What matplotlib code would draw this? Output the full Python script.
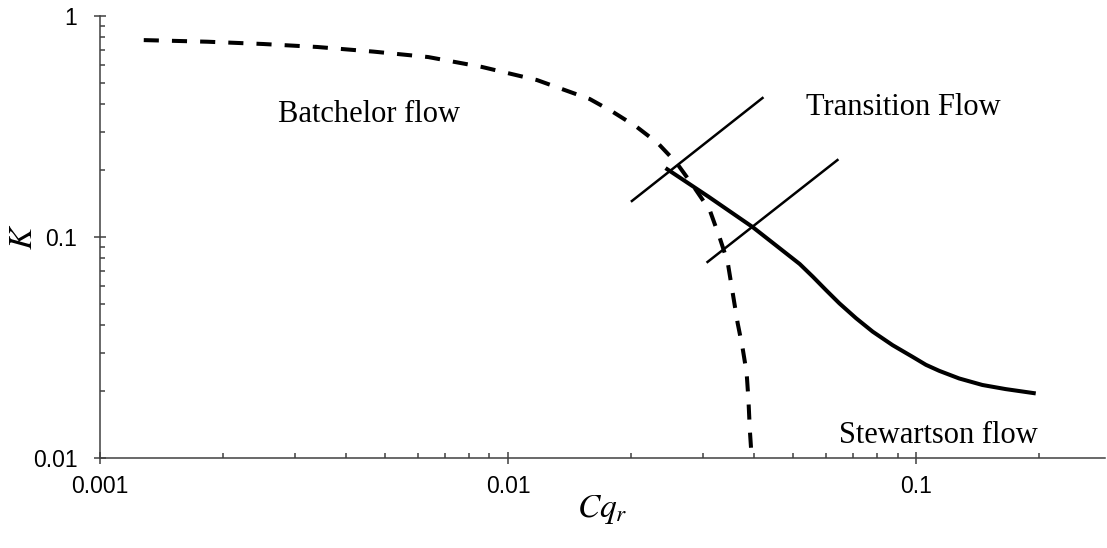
import matplotlib
matplotlib.use('Agg')
from matplotlib import pyplot as plt

plt.rcParams['mathtext.fontset'] = 'stix'

# Batchelor branch (dashed)
batchelor_cq = [0.00128, 0.00183, 0.00251, 0.00341, 0.00468, 0.00637, 0.00863,
                0.01177, 0.01585, 0.01806, 0.02065, 0.02326, 0.02588, 0.0283,
                0.0312, 0.0330, 0.0345, 0.0355, 0.0365, 0.0375, 0.0384,
                0.0388, 0.0391, 0.0395, 0.0397]
batchelor_k = [0.778, 0.765, 0.747, 0.724, 0.690, 0.652, 0.588,
               0.513, 0.421, 0.368, 0.315, 0.266, 0.216, 0.172,
               0.132, 0.0990, 0.0771, 0.0558, 0.0408, 0.0318, 0.0243,
               0.0183, 0.0134, 0.0101, 0.0085]

# Stewartson branch (solid)
stewartson_cq = [0.0243, 0.0310, 0.0397, 0.0518, 0.0558, 0.0601,
                 0.0648, 0.0712, 0.0782, 0.0875, 0.0979, 0.1056, 0.1138,
                 0.1274, 0.1452, 0.1656, 0.1962]
stewartson_k = [0.205, 0.152, 0.111, 0.0755, 0.0661, 0.0575,
                0.0501, 0.0429, 0.0373, 0.0324, 0.0287, 0.0264, 0.0248,
                0.0229, 0.0214, 0.0205, 0.0196]

# transition markers
trans1_cq = [0.0201, 0.0420]
trans1_k = [0.1455, 0.4256]
trans2_cq = [0.0308, 0.0641]
trans2_k = [0.0771, 0.223]

fig = plt.figure(figsize=(11.07, 5.48), dpi=100)
ax = fig.add_axes([100 / 1107, 90 / 548, 1005 / 1107, 442 / 548])

ax.plot(batchelor_cq, batchelor_k, color='black', lw=2.9, dashes=(3.75, 3.25))
ax.plot(stewartson_cq, stewartson_k, color='black', lw=2.9,
        solid_capstyle='butt', solid_joinstyle='round')
ax.plot(trans1_cq, trans1_k, color='black', lw=1.8)
ax.plot(trans2_cq, trans2_k, color='black', lw=1.8)

ax.set_xscale('log')
ax.set_yscale('log')
ax.set_xlim(0.001, 0.29)
ax.set_ylim(0.01, 1)

for side in ['top', 'right']:
    ax.spines[side].set_visible(False)
for side in ['left', 'bottom']:
    ax.spines[side].set_color('#404040')
    ax.spines[side].set_linewidth(1.1)

ax.set_xticks([0.001, 0.01, 0.1])
ax.set_xticklabels(['0.001', '0.01', '0.1'])
ax.set_yticks([0.01, 0.1, 1])
ax.set_yticklabels(['0.01', '0.1', '1'])
ax.tick_params(which='major', direction='inout', length=8.6, width=1.1,
               color='#404040', labelsize=16.5, pad=8,
               labelfontfamily='Liberation Sans')
ax.tick_params(which='minor', direction='in', length=3.8, width=1.1, color='#404040')
ax.tick_params(axis='y', which='major', pad=12)

ax.set_xlabel(r'$Cq_r$', fontsize=24)
ax.xaxis.set_label_coords(0.5, -0.08)
ax.set_ylabel(r'$K$', fontsize=24)
ax.yaxis.set_label_coords(-0.061, 0.5)

ax.text(0.00455, 0.331, 'Batchelor flow', family='Liberation Serif', fontsize=22,
        ha='center', va='baseline')
ax.text(0.0929, 0.356, 'Transition Flow', family='Liberation Serif', fontsize=22,
        ha='center', va='baseline')
ax.text(0.113, 0.0117, 'Stewartson flow', family='Liberation Serif', fontsize=22,
        ha='center', va='baseline')

plt.savefig('out.png', dpi=100)
